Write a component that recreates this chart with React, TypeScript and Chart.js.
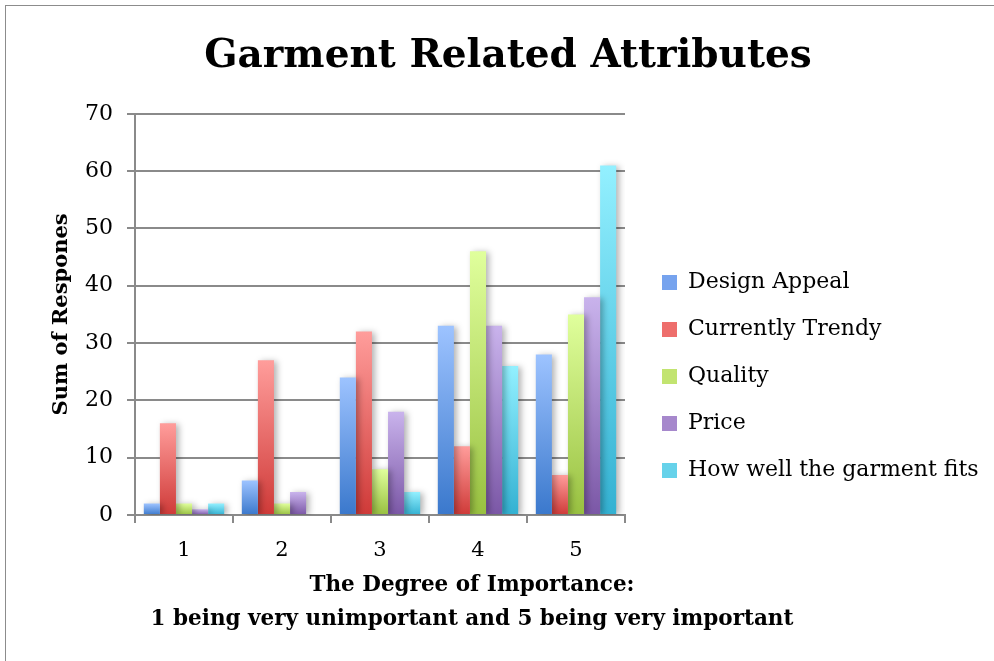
import React, { useEffect, useRef } from "react";
import { Chart, registerables } from "chart.js";

Chart.register(...registerables);

const categories = ["1", "2", "3", "4", "5"];
const seriesNames = [
  "Design Appeal",
  "Currently Trendy",
  "Quality",
  "Price",
  "How well the garment fits",
];
const designAppeal = [2, 6, 24, 33, 28];
const currentlyTrendy = [16, 27, 32, 12, 7];
const quality = [2, 2, 8, 46, 35];
const price = [1, 4, 18, 33, 38];
const garmentFits = [2, 0, 4, 26, 61];
const yTickValues = [0, 10, 20, 30, 40, 50, 60, 70];
const xTitleLines = [
  "The Degree of Importance:",
  "1 being very unimportant and 5 being very important",
];

const topColors = ["#9DC3FF", "#FF9D9B", "#E0FF9C", "#C9B3EC", "#93F0FF"];
const bottomColors = ["#3A78CC", "#CF3A38", "#98C040", "#7B57A6", "#33B1D2"];
const midColors = ["#76A3EE", "#EE6E6C", "#C2E470", "#A688CC", "#66D2EA"];

const FONT = "'DejaVu Serif', 'Liberation Serif', serif";

function makeFill(i: number) {
  return (ctx: any) => {
    const chart = ctx.chart;
    const y = chart.scales && chart.scales.y;
    if (ctx.type !== "data" || !y || !chart.chartArea) return midColors[i];
    const top = y.getPixelForValue(ctx.raw);
    const bottom = y.getPixelForValue(0);
    if (!(bottom > top + 0.5)) return bottomColors[i];
    const g = chart.ctx.createLinearGradient(0, top, 0, bottom);
    g.addColorStop(0, topColors[i]);
    g.addColorStop(1, bottomColors[i]);
    return g;
  };
}

const shadowPlugin = {
  id: "barShadow",
  beforeDatasetsDraw(chart: any) {
    const c = chart.ctx;
    c.save();
    c.shadowColor = "rgba(0,0,0,0.3)";
    c.shadowBlur = 6;
    c.shadowOffsetX = 3;
    c.shadowOffsetY = 1;
  },
  afterDatasetsDraw(chart: any) {
    chart.ctx.restore();
  },
};

const LEGEND_WIDTH = 369;
const layoutTweaks = {
  id: "layoutTweaks",
  beforeLayout(chart: any) {
    const lg = chart.legend;
    if (lg && !lg.__patched) {
      const orig = lg.fit.bind(lg);
      lg.fit = function () {
        orig();
        this.width = LEGEND_WIDTH;
      };
      lg.__patched = true;
    }
  },
  afterLayout(chart: any) {
    const lg = chart.legend;
    if (lg) {
      lg.left += 12;
      lg.right += 12;
      lg.top += 46;
      lg.bottom += 46;
    }
    const xs = chart.scales.x;
    if (xs && !xs.__patched) {
      const origTitle = xs.drawTitle.bind(xs);
      xs.drawTitle = function () {
        const r = this.right;
        this.right = r + 184;
        origTitle();
        this.right = r;
      };
      xs.__patched = true;
    }
  },
};

export default function App() {
  const canvasRef = useRef<HTMLCanvasElement | null>(null);

  useEffect(() => {
    document.body.style.margin = "0";
    if (!canvasRef.current) return;
    const all = [designAppeal, currentlyTrendy, quality, price, garmentFits];
    const chart = new Chart(canvasRef.current, {
      type: "bar",
      data: {
        labels: categories,
        datasets: all.map((d, i) => ({
          label: seriesNames[i],
          data: d,
          backgroundColor: makeFill(i),
          borderWidth: 0,
          categoryPercentage: 0.82,
          barPercentage: 1.0,
        })),
      },
      plugins: [shadowPlugin, layoutTweaks],
      options: {
        animation: false,
        responsive: false,
        maintainAspectRatio: false,
        layout: { padding: { left: 22, right: 0, top: 0, bottom: 0 } },
        plugins: {
          title: {
            display: true,
            text: "Garment Related Attributes",
            color: "#000",
            font: { family: FONT, size: 39, weight: "bold" },
            padding: { top: 33, bottom: 34 },
          },
          legend: {
            display: true,
            position: "right",
            align: "center",
            maxWidth: 400,
            labels: {
              color: "#000",
              font: { family: FONT, size: 22 },
              boxWidth: 15,
              boxHeight: 15,
              padding: 25,
              generateLabels: (ch: any) =>
                ch.data.datasets.map((ds: any, i: number) => ({
                  text: ds.label,
                  fillStyle: midColors[i],
                  strokeStyle: midColors[i],
                  lineWidth: 0,
                  hidden: false,
                  datasetIndex: i,
                  fontColor: "#000",
                })),
            },
          },
          tooltip: { enabled: false },
        },
        scales: {
          x: {
            grid: {
              display: true,
              drawOnChartArea: false,
              drawTicks: true,
              tickLength: 8,
              color: "#8a8a8a",
              lineWidth: 2,
            },
            border: { display: true, color: "#8a8a8a", width: 2 },
            ticks: {
              color: "#000",
              font: { family: FONT, size: 21 },
              padding: 15,
            },
            title: {
              display: true,
              text: xTitleLines,
              color: "#000",
              font: { family: FONT, size: 21.5, weight: "bold", lineHeight: 1.58 },
              padding: { top: 0, bottom: 25 },
            },
            afterFit: (s: any) => {
              s.height = 146;
            },
          },
          y: {
            min: 0,
            max: 70,
            afterBuildTicks: (s: any) => {
              s.ticks = yTickValues.map((v) => ({ value: v }));
            },
            grid: {
              display: true,
              drawTicks: true,
              tickLength: 8,
              color: "#8a8a8a",
              lineWidth: 2,
            },
            border: { display: true, color: "#8a8a8a", width: 2 },
            ticks: {
              color: "#000",
              font: { family: FONT, size: 22 },
              padding: 14,
            },
            title: {
              display: true,
              text: "Sum of Respones",
              color: "#000",
              font: { family: FONT, size: 21, weight: "bold" },
              padding: { top: 27, bottom: 0 },
            },
            afterFit: (s: any) => {
              s.width = 113;
            },
          },
        },
      },
    });
    return () => chart.destroy();
  }, []);

  return (
    <div style={{ position: "relative", width: 994, height: 661, overflow: "hidden", background: "#fff" }}>
      <div
        style={{
          position: "absolute",
          left: 5,
          top: 5,
          width: 2000,
          height: 2000,
          borderLeft: "1px solid #8c8c8c",
          borderTop: "1px solid #8c8c8c",
        }}
      />
      <canvas ref={canvasRef} width={994} height={661} style={{ position: "absolute", left: 0, top: 0, display: "block" }} />
    </div>
  );
}
